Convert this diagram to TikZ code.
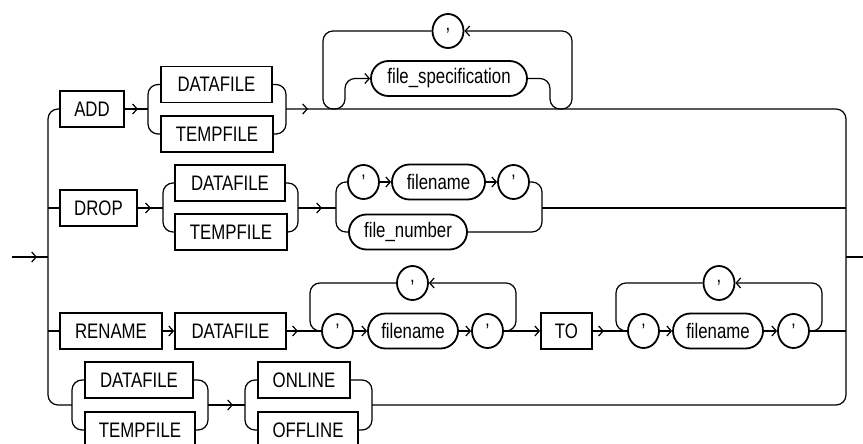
\documentclass[tikz,border=0pt]{standalone}
\usepackage{fontspec}
\setmainfont[FakeStretch=0.8]{Liberation Sans}
\usetikzlibrary{arrows.meta,shapes.geometric,decorations.markings}
\tikzset{
  tip/.tip={Straight Barb[length=4.5pt,width=10pt]},
  line/.style={line width=1.2pt},
  rc/.style={rounded corners=10pt},
  arrto/.style={-tip},
  arrat/.style={postaction={decorate,decoration={markings,mark=at position #1 with {\arrow{Straight Barb[length=4.5pt,width=10pt]}}}}},
  base/.style={draw,line width=1.8pt,inner sep=0pt,minimum height=36pt,font=\fontsize{21}{24}\selectfont},
  kw/.style={base,rectangle},
  term/.style={base,rectangle,rounded corners=17.5pt,minimum height=35pt},
  circ/.style={base,ellipse,minimum width=31pt,minimum height=34pt},
}
\begin{document}
\begin{tikzpicture}[x=1pt,y=-1pt]
\useasboundingbox (0,0) rectangle (863,444);
\clip (0,0) rectangle (863,444);
% coordinates
\coordinate (start) at (12,257);
\coordinate (tj) at (48,257);
\coordinate (exitA) at (846,257);
\coordinate (exitB) at (863,257);
\coordinate (aL) at (148,109);
\coordinate (aR) at (286,109);
\coordinate (dL) at (163,208);
\coordinate (dR) at (298,208);
\coordinate (eL) at (336,208);
\coordinate (eR) at (542,208);
\coordinate (bL) at (72,405);
\coordinate (bR) at (208,405);
\coordinate (oL) at (245,405);
\coordinate (oR) at (372,405);
% ADD row
\node[kw,minimum width=64pt] (add) at (92,109) {ADD};
\node[kw,minimum width=111pt] (adf) at (216.5,84.5) {DATAFILE};
\node[kw,minimum width=112pt] (atf) at (217,134) {TEMPFILE};
\node[circ] (c1) at (448,31) {,};
\node[term,minimum width=156pt] (fs) at (449,78.5) {file\_specification};
% DROP row
\node[kw,minimum width=77pt] (drop) at (98.5,208) {DROP};
\node[kw,minimum width=110pt] (ddf) at (230,183) {DATAFILE};
\node[kw,minimum width=112pt] (dtf) at (231,232) {TEMPFILE};
\node[circ] (dq1) at (363.5,182) {'};
\node[term,minimum width=93pt] (dfn) at (438.5,182) {filename};
\node[circ] (dq2) at (513.5,182) {'};
\node[term,minimum width=118pt] (dnum) at (408,232) {file\_number};
% RENAME row
\node[kw,minimum width=102pt] (ren) at (111,331) {RENAME};
\node[kw,minimum width=111pt] (rdf) at (230.5,331) {DATAFILE};
\node[circ] (rq1) at (337.5,331) {'};
\node[term,minimum width=90pt] (rfn) at (413,331) {filename};
\node[circ] (rq2) at (487.5,331) {'};
\node[circ] (rcm) at (412.5,283) {,};
\node[kw,minimum width=51pt] (to) at (566.5,331) {TO};
\node[circ] (sq1) at (643.5,331) {'};
\node[term,minimum width=90pt] (sfn) at (718,331) {filename};
\node[circ] (sq2) at (793.5,331) {'};
\node[circ] (scm) at (719,283) {,};
% last row
\node[kw,minimum width=108pt] (bdf) at (139,380) {DATAFILE};
\node[kw,minimum width=110pt] (btf) at (140,430) {TEMPFILE};
\node[kw,minimum width=92pt] (on) at (304,380) {ONLINE};
\node[kw,minimum width=100pt] (off) at (308,430) {OFFLINE};

% entry, trunk, exit
\draw[line,arrat=25pt] (start) -- (tj);
\draw[line,rc] (add.west) -- (48,109) -- (48,405) -- (bL);
\draw[line] (48,208) -- (drop.west);
\draw[line] (48,331) -- (ren.west);
\draw[line] (exitA) -- (exitB);
% ADD
\draw[line,arrat=13pt] (add.east) -- (aL);
\draw[line,rc] (adf.west) -| (aL) |- (atf.west);
\draw[line,rc] (adf.east) -| (aR) |- (atf.east);
\draw[line,rc,arrat=22pt] (aR) -- (846,109) -- (846,405) -- (oR);
\draw[line,rc,arrto] (c1.west) -- (323,31) -- (323,109) -- (345,109) -- (345,78.5) -- (fs.west);
\draw[line,rc,arrto] (fs.east) -- (550,78.5) -- (550,109) -- (572,109) -- (572,31) -- (c1.east);
% DROP
\draw[line,arrat=13pt] (drop.east) -- (dL);
\draw[line,rc] (ddf.west) -| (dL) |- (dtf.west);
\draw[line,rc] (ddf.east) -| (dR) |- (dtf.east);
\draw[line,arrat=24pt] (dR) -- (eL);
\draw[line,rc] (dq1.west) -| (eL) |- (dnum.west);
\draw[line,rc] (dq2.east) -| (eR) |- (dnum.east);
\draw[line,arrto] (dq1) -- (dfn);
\draw[line,arrto] (dfn) -- (dq2);
\draw[line] (eR) -- (846,208);
% RENAME
\draw[line,arrto] (ren) -- (rdf);
\draw[line,arrat=11pt] (rdf.east) -- (rq1.west);
\draw[line,rc] (rcm.west) -- (310,283) -- (310,331) -- (rq1.west);
\draw[line,arrto] (rq1) -- (rfn);
\draw[line,arrto] (rfn) -- (rq2);
\draw[line,rc,arrto] (rq2.east) -- (516,331) -- (516,283) -- (rcm.east);
\draw[line,arrto] (rq2.east) -- (to.west);
\draw[line,arrat=11pt] (to.east) -- (sq1.west);
\draw[line,rc] (scm.west) -- (616,283) -- (616,331) -- (sq1.west);
\draw[line,arrto] (sq1) -- (sfn);
\draw[line,arrto] (sfn) -- (sq2);
\draw[line,rc,arrto] (sq2.east) -- (822,331) -- (822,283) -- (scm.east);
\draw[line] (sq2.east) -- (846,331);
% last row
\draw[line,rc] (bdf.west) -| (bL) |- (btf.west);
\draw[line,rc] (bdf.east) -| (bR) |- (btf.east);
\draw[line,arrat=25pt] (bR) -- (oL);
\draw[line,rc] (on.west) -| (oL) |- (off.west);
\draw[line,rc] (on.east) -| (oR) |- (off.east);
\end{tikzpicture}
\end{document}
